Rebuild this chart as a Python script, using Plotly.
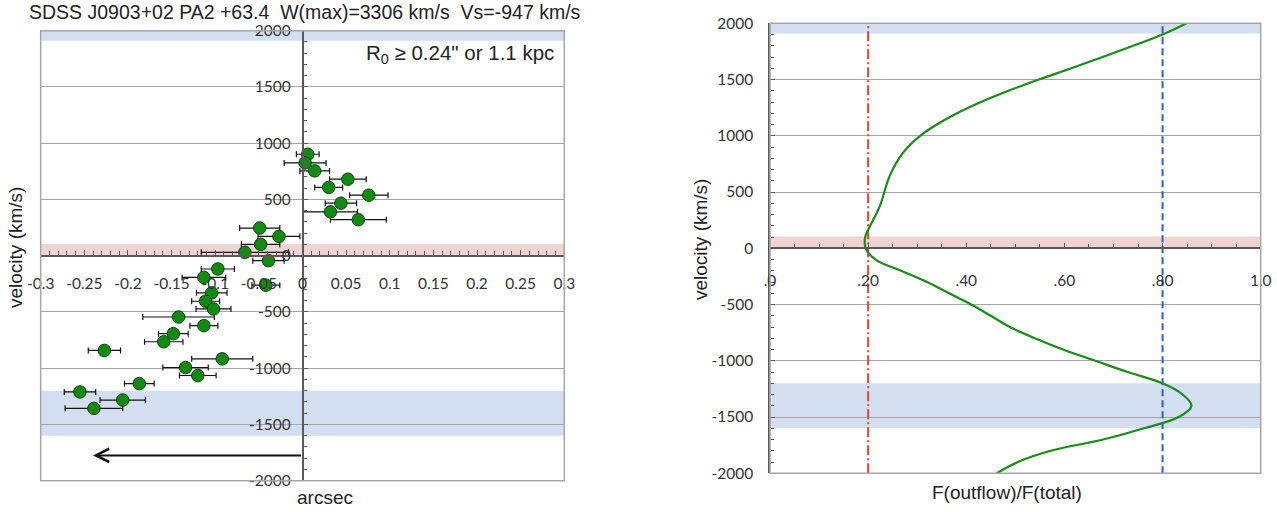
import plotly.graph_objects as go

# ---- left panel: position-velocity measurements ----
offset_arcsec = [0.006, 0.003, 0.014, 0.052, 0.030, 0.076, 0.044, 0.032, 0.064,
                 -0.049, -0.027, -0.048, -0.066, -0.039, -0.097, -0.113, -0.042,
                 -0.104, -0.111, -0.102, -0.142, -0.113, -0.148, -0.159, -0.227,
                 -0.092, -0.134, -0.120, -0.187, -0.255, -0.206, -0.239]
velocity_kms = [902, 825, 754, 680, 607, 538, 467, 390, 320,
                246, 172, 101, 30, -44, -118, -193, -262,
                -330, -405, -473, -545, -622, -693, -765, -842,
                -917, -994, -1065, -1137, -1211, -1283, -1357]
offset_err = [0.013, 0.024, 0.017, 0.021, 0.016, 0.022, 0.018, 0.031, 0.032,
              0.023, 0.024, 0.022, 0.050, 0.018, 0.019, 0.025, 0.016,
              0.0175, 0.016, 0.020, 0.041, 0.016, 0.017, 0.022, 0.0185,
              0.035, 0.026, 0.021, 0.017, 0.018, 0.026, 0.033]

# ---- right panel: outflow flux fraction vs velocity ----
curve_velocity = [2000, 1900, 1800, 1700, 1600, 1500, 1400, 1300, 1200, 1100,
                  1000, 900, 800, 700, 600, 500, 400, 300, 200, 100,
                  0, -100, -200, -300, -400, -500, -600, -700, -800, -900,
                  -1000, -1100, -1200, -1300, -1400, -1500, -1600, -1700, -1800, -1900, -2000]
flux_fraction = [0.849, 0.800, 0.740, 0.678, 0.614, 0.548, 0.486, 0.430, 0.381, 0.340,
                 0.306, 0.281, 0.263, 0.250, 0.240, 0.233, 0.226, 0.216, 0.204, 0.194,
                 0.195, 0.215, 0.267, 0.320, 0.365, 0.410, 0.450, 0.489, 0.540, 0.597,
                 0.663, 0.729, 0.800, 0.841, 0.859, 0.833, 0.762, 0.679, 0.572, 0.505, 0.462]

low_fraction = 0.2
high_fraction = 0.8

# shaded velocity bands (min, max, colour)
bands = [(1910, 2000, "rgba(200,215,236,0.8)"),
         (0, 105, "rgba(236,200,200,0.8)"),
         (-1600, -1200, "rgba(200,215,236,0.8)")]

# extent of the projected outflow radius
arrow_tip = -0.24
arrow_level = -1775

# tick labels
x_ticks = [-0.3, -0.25, -0.2, -0.15, -0.1, -0.05, 0, 0.05, 0.1, 0.15, 0.2, 0.25, 0.3]
x_tick_text = ["-0.3", "-0.25", "-0.2", "-0.15", "-0.1", "-0.05", "0", "0.05", "0.1",
               "0.15", "0.2", "0.25", "0.3"]
v_ticks = [2000, 1500, 1000, 500, 0, -500, -1000, -1500, -2000]
v_tick_text = ["2000", "1500", "1000", "500", "0", "-500", "-1000", "-1500", "-2000"]
f_ticks = [0, 0.2, 0.4, 0.6, 0.8, 1.0]
f_tick_text = [".0", ".20", ".40", ".60", ".80", "1.0"]

TICK_FONT = dict(family="Lato, Open Sans, sans-serif", size=15.5, color="#333333")
TITLE_FONT = dict(family="Liberation Sans, Arial, sans-serif", size=19.5, color="#222222")
LABEL_FONT = dict(family="Liberation Sans, Arial, sans-serif", size=19, color="#222222")
NOTE_FONT = dict(family="Liberation Sans, Arial, sans-serif", size=20.5, color="#222222")
AXIS_COLOR = "#595959"
GRID_COLOR = "#a6a6a6"

W, H = 1277, 512
left_x = [40.7 / W, 564.3 / W]
left_y = [1 - 480.7 / H, 1 - 30.7 / H]
right_x = [770 / W, 1260.7 / W]
right_y = [1 - 473.3 / H, 1 - 23.3 / H]

fig = go.Figure()

fig.add_trace(go.Scatter(
    x=offset_arcsec, y=velocity_kms, mode="markers",
    error_x=dict(type="data", array=offset_err, color="#111111", thickness=1.2, width=3),
    marker=dict(size=12.5, color="#138a13", line=dict(color="#0a3f0a", width=1)),
    xaxis="x", yaxis="y", showlegend=False))

fig.add_trace(go.Scatter(
    x=[low_fraction, low_fraction], y=[-2000, 2000], mode="lines",
    line=dict(color="#e8412c", width=2, dash="10px,3px,2px,3px"),
    xaxis="x2", yaxis="y2", showlegend=False))
fig.add_trace(go.Scatter(
    x=[high_fraction, high_fraction], y=[-2000, 2000], mode="lines",
    line=dict(color="#2b5ce0", width=2, dash="7px,4px"),
    xaxis="x2", yaxis="y2", showlegend=False))
fig.add_trace(go.Scatter(
    x=flux_fraction, y=curve_velocity, mode="lines", line_shape="spline",
    line=dict(color="#1a8c1a", width=2.2, smoothing=1.0),
    xaxis="x2", yaxis="y2", showlegend=False))

# shaded bands in both panels
for xr, yr in (("x domain", "y"), ("x2 domain", "y2")):
    for lo, hi, col in bands:
        fig.add_shape(type="rect", xref=xr, yref=yr, x0=0, x1=1, y0=lo, y1=hi,
                      fillcolor=col, line_width=0, layer="below")

# plot frames
for xr, yr in (("x domain", "y domain"), ("x2 domain", "y2 domain")):
    fig.add_shape(type="rect", xref=xr, yref=yr, x0=0, x1=1, y0=0, y1=1,
                  line=dict(color=GRID_COLOR, width=1.5), layer="above")

common_y = dict(range=[-2000, 2000], tickvals=v_ticks, ticktext=v_tick_text,
                showline=True, linecolor=AXIS_COLOR, linewidth=1.5,
                ticks="inside", ticklen=5, tickcolor=AXIS_COLOR,
                minor=dict(dtick=100, ticks="inside", ticklen=4, tickcolor=AXIS_COLOR),
                showgrid=True, gridcolor=GRID_COLOR, gridwidth=1,
                zeroline=False, tickfont=TICK_FONT, fixedrange=True,
                automargin=False)

fig.update_layout(
    width=W, height=H,
    margin=dict(l=0, r=0, t=0, b=0, autoexpand=False),
    paper_bgcolor="white", plot_bgcolor="white",
    xaxis=dict(domain=left_x, range=[-0.3, 0.3], anchor="free",
               position=(left_y[0] + left_y[1]) / 2,
               tickvals=x_ticks, ticktext=x_tick_text,
               showline=True, linecolor=AXIS_COLOR, linewidth=1.5,
               ticks="inside", ticklen=5, tickcolor=AXIS_COLOR,
               minor=dict(dtick=0.01, ticks="inside", ticklen=4, tickcolor=AXIS_COLOR),
               showgrid=False, zeroline=False, tickfont=TICK_FONT,
               ticklabelstandoff=14, automargin=False),
    yaxis=dict(domain=left_y, anchor="free",
               position=(left_x[0] + left_x[1]) / 2,
               ticklabelstandoff=8, **common_y),
    xaxis2=dict(domain=right_x, range=[0, 1], anchor="free",
                position=(right_y[0] + right_y[1]) / 2,
                tickvals=f_ticks, ticktext=f_tick_text,
                showline=True, linecolor=AXIS_COLOR, linewidth=1.5,
                ticks="inside", ticklen=5, tickcolor=AXIS_COLOR,
                minor=dict(dtick=0.05, ticks="inside", ticklen=4, tickcolor=AXIS_COLOR),
                showgrid=False, zeroline=False, tickfont=TICK_FONT,
                ticklabelstandoff=18, automargin=False),
    yaxis2=dict(domain=right_y, anchor="x2", ticklabelstandoff=12, **common_y),
)

annotations = [
    dict(text="SDSS J0903+02 PA2 +63.4  W(max)=3306 km/s  Vs=-947 km/s",
         xref="paper", yref="paper", x=305 / W, y=1 - 12 / H,
         xanchor="center", yanchor="middle", showarrow=False, font=TITLE_FONT),
    dict(text="R<sub>0</sub> ≥ 0.24\" or 1.1 kpc", xref="x", yref="y",
         x=0.29, y=1793, xanchor="right", yanchor="middle", showarrow=False,
         font=NOTE_FONT),
    dict(text="velocity (km/s)", xref="paper", yref="paper", x=15 / W, y=1 - 248 / H,
         textangle=-90, xanchor="center", yanchor="middle", showarrow=False,
         font=LABEL_FONT),
    dict(text="arcsec", xref="paper", yref="paper", x=325 / W, y=1 - 497 / H,
         xanchor="center", yanchor="middle", showarrow=False, font=LABEL_FONT),
    dict(text="velocity (km/s)", xref="paper", yref="paper", x=700 / W, y=1 - 240 / H,
         textangle=-90, xanchor="center", yanchor="middle", showarrow=False,
         font=LABEL_FONT),
    dict(text="F(outflow)/F(total)", xref="paper", yref="paper", x=1007 / W, y=1 - 492 / H,
         xanchor="center", yanchor="middle", showarrow=False, font=LABEL_FONT),
    dict(text="", x=arrow_tip, y=arrow_level, ax=0, ay=arrow_level,
         xref="x", yref="y", axref="x", ayref="y", showarrow=True,
         arrowhead=5, arrowsize=1.3, arrowwidth=2, arrowcolor="#111111", standoff=0),
]
fig.update_layout(annotations=annotations)

fig.write_html("out.html")
